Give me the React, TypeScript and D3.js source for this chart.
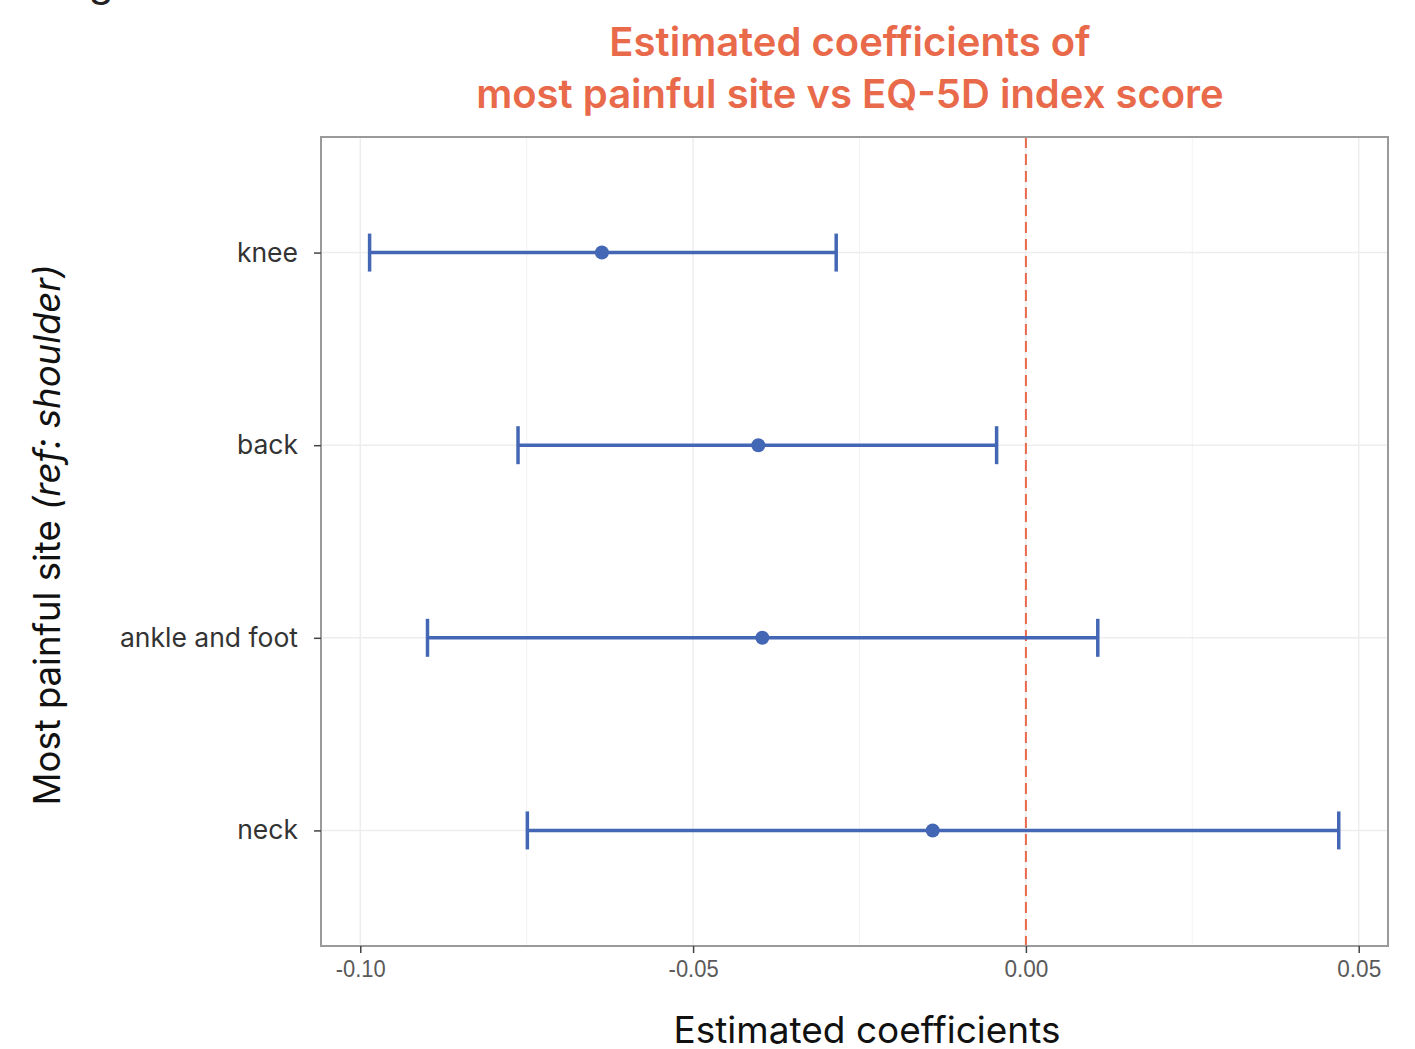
import React, { useEffect, useRef } from 'react';
import * as d3 from 'd3';

const sites = ['knee', 'back', 'ankle and foot', 'neck'];
const estimates = [-0.0637, -0.0402, -0.0396, -0.0140];
const lower = [-0.0986, -0.0763, -0.0899, -0.0749];
const upper = [-0.0285, -0.0044, 0.0108, 0.0470];
const xTicks = [-0.1, -0.05, 0, 0.05];
const xMinor = [-0.075, -0.025, 0.025];
const titleLines = ['Estimated coefficients of', 'most painful site vs EQ-5D index score'];

const W = 1415;
const H = 1049;
const panel = { left: 321, right: 1388, top: 137, bottom: 946 };

const App = () => {
  const svgRef = useRef<SVGSVGElement>(null);

  useEffect(() => {
    const svg = d3.select(svgRef.current);
    svg.selectAll('*').remove();

    const x = d3.scaleLinear().domain([-0.1059, 0.0544]).range([panel.left, panel.right]);
    const y = d3.scalePoint().domain(sites).range([panel.top, panel.bottom]).padding(0.6);

    const blue = '#4467B5';
    const orange = '#E96A4B';

    // cropped glyph at the very top-left of the source figure
    svg.append('text')
      .attr('x', 101).attr('y', -4)
      .attr('text-anchor', 'middle')
      .style('font-family', 'Inter, sans-serif')
      .style('font-size', '40px')
      .style('fill', '#222')
      .text('g');

    // grid
    const grid = svg.append('g');
    grid.selectAll('.minor').data(xMinor).enter().append('line')
      .attr('x1', d => x(d)).attr('x2', d => x(d))
      .attr('y1', panel.top).attr('y2', panel.bottom)
      .attr('stroke', '#f3f3f3').attr('stroke-width', 1);
    grid.selectAll('.major').data(xTicks).enter().append('line')
      .attr('x1', d => x(d)).attr('x2', d => x(d))
      .attr('y1', panel.top).attr('y2', panel.bottom)
      .attr('stroke', '#ededed').attr('stroke-width', 1.5);
    grid.selectAll('.hy').data(sites).enter().append('line')
      .attr('x1', panel.left).attr('x2', panel.right)
      .attr('y1', d => y(d)!).attr('y2', d => y(d)!)
      .attr('stroke', '#ededed').attr('stroke-width', 1.5);

    // reference line at zero
    svg.append('line')
      .attr('x1', x(0)).attr('x2', x(0))
      .attr('y1', panel.top).attr('y2', panel.bottom)
      .attr('stroke', orange).attr('stroke-width', 2)
      .attr('stroke-dasharray', '11,6');

    // error bars
    const bars = svg.append('g').selectAll('g').data(sites).enter().append('g');
    bars.append('line')
      .attr('x1', (d, i) => x(lower[i])).attr('x2', (d, i) => x(upper[i]))
      .attr('y1', d => y(d)!).attr('y2', d => y(d)!)
      .attr('stroke', blue).attr('stroke-width', 3.5);
    bars.append('line')
      .attr('x1', (d, i) => x(lower[i])).attr('x2', (d, i) => x(lower[i]))
      .attr('y1', d => y(d)! - 19).attr('y2', d => y(d)! + 19)
      .attr('stroke', blue).attr('stroke-width', 3.5);
    bars.append('line')
      .attr('x1', (d, i) => x(upper[i])).attr('x2', (d, i) => x(upper[i]))
      .attr('y1', d => y(d)! - 19).attr('y2', d => y(d)! + 19)
      .attr('stroke', blue).attr('stroke-width', 3.5);
    bars.append('circle')
      .attr('cx', (d, i) => x(estimates[i]))
      .attr('cy', d => y(d)!)
      .attr('r', 7)
      .attr('fill', blue);

    // panel border
    svg.append('rect')
      .attr('x', panel.left).attr('y', panel.top)
      .attr('width', panel.right - panel.left).attr('height', panel.bottom - panel.top)
      .attr('fill', 'none').attr('stroke', '#9a9a9a').attr('stroke-width', 2);

    // x axis
    const fmt = d3.format('.2f');
    const xAxis = svg.append('g')
      .attr('transform', `translate(0,${panel.bottom})`)
      .call(d3.axisBottom(x).tickValues(xTicks)
        .tickFormat(d => fmt(d as number).replace('−', '-'))
        .tickSize(7).tickSizeOuter(0));
    xAxis.select('.domain').remove();
    xAxis.selectAll('line').attr('stroke', '#444').attr('stroke-width', 1.5);
    xAxis.selectAll('text')
      .attr('y', 14)
      .attr('textLength', d => ((d as number) < 0 ? 50 : 44))
      .attr('lengthAdjust', 'spacingAndGlyphs')
      .style('font-family', '"Liberation Sans", Arial, sans-serif')
      .style('font-size', '24px')
      .style('fill', '#5a5a5a');

    // y axis
    const yAxis = svg.append('g')
      .attr('transform', `translate(${panel.left},0)`)
      .call(d3.axisLeft(y).tickSize(7).tickPadding(16).tickSizeOuter(0));
    yAxis.select('.domain').remove();
    yAxis.selectAll('line').attr('stroke', '#444').attr('stroke-width', 1.5);
    yAxis.selectAll('text')
      .style('font-family', 'Inter, sans-serif')
      .style('font-size', '26.5px')
      .style('fill', '#333');

    // title
    svg.append('text')
      .attr('x', 850).attr('y', 56)
      .attr('text-anchor', 'middle')
      .style('font-family', 'Inter, sans-serif')
      .style('font-weight', 600)
      .style('font-size', '40px')
      .style('fill', orange)
      .selectAll('tspan').data(titleLines).enter().append('tspan')
      .attr('x', 850).attr('dy', (d, i) => (i === 0 ? 0 : 52))
      .text(d => d);

    // axis titles
    svg.append('text')
      .attr('x', 867).attr('y', 1043)
      .attr('text-anchor', 'middle')
      .style('font-family', 'Inter, sans-serif')
      .style('font-size', '37px')
      .style('fill', '#111')
      .text('Estimated coefficients');

    const yt = svg.append('text')
      .attr('transform', 'translate(60,535) rotate(-90)')
      .attr('text-anchor', 'middle')
      .style('font-family', 'Inter, sans-serif')
      .style('font-size', '36.5px')
      .style('fill', '#111');
    yt.append('tspan').text('Most painful site ');
    yt.append('tspan').style('font-style', 'italic').text('(ref: shoulder)');
  }, []);

  return (
    <svg
      ref={svgRef}
      width={W}
      height={H}
      style={{ position: 'absolute', left: 0, top: 0, background: '#fff' }}
    />
  );
};

export default App;
